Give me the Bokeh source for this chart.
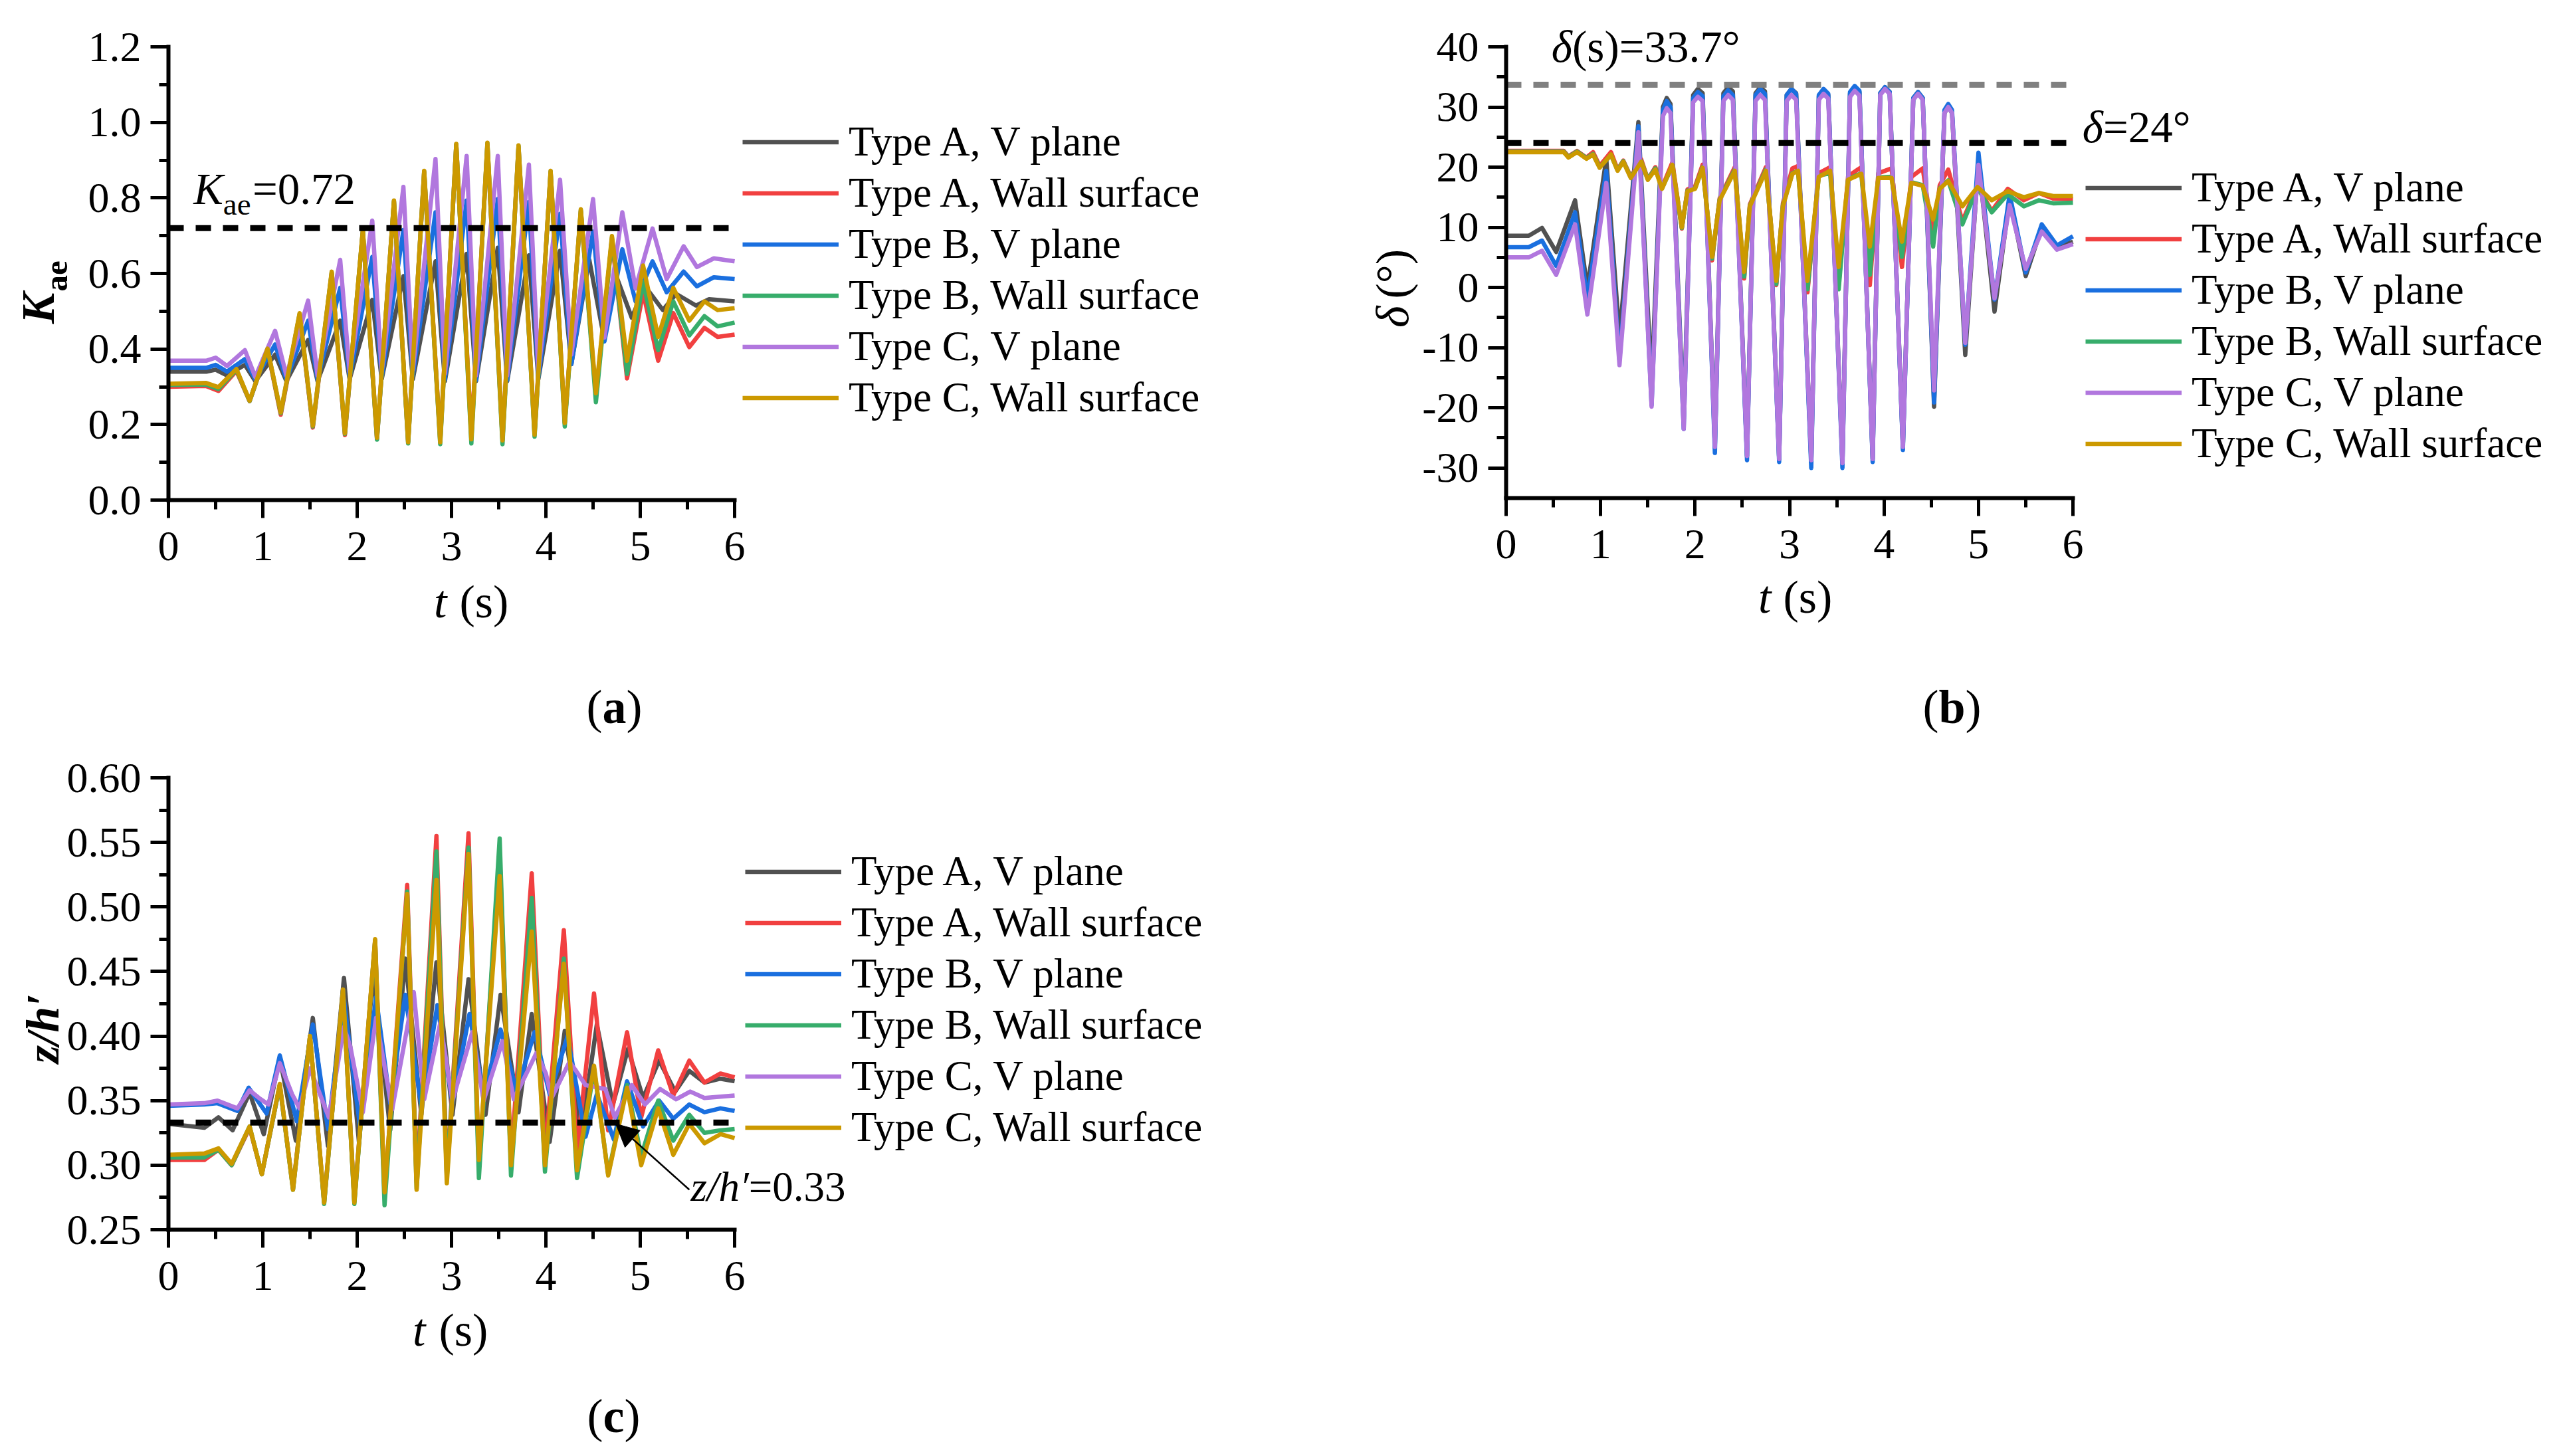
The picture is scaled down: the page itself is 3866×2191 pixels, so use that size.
from math import pi
from bokeh.plotting import figure
from bokeh.models import (Range1d, FixedTicker, Legend, LegendItem, Label, Arrow, NormalHead)
from bokeh.layouts import column, row
from bokeh.embed import file_html
from bokeh.resources import INLINE

# ---------------- data ----------------
NAMES = ["Type A, V plane", "Type A, Wall surface", "Type B, V plane",
         "Type B, Wall surface", "Type C, V plane", "Type C, Wall surface"]
COLORS = ["#515151", "#F14040", "#1A6FDF", "#37AD6B", "#B177DE", "#CC9900"]

T_MIN, T_MAX = 0, 6
T_TICKS = [0, 1, 2, 3, 4, 5, 6]
T_LABELS = ["0", "1", "2", "3", "4", "5", "6"]
T_MINOR = [0.5, 1.5, 2.5, 3.5, 4.5, 5.5]

KAE_RANGE = [0.0, 1.2]
KAE_TICKS = [0.0, 0.2, 0.4, 0.6, 0.8, 1.0, 1.2]
KAE_LABELS = ["0.0", "0.2", "0.4", "0.6", "0.8", "1.0", "1.2"]
KAE_MINOR = [0.1, 0.3, 0.5, 0.7, 0.9, 1.1]
KAE_REF = 0.72

DEL_RANGE = [-35, 40]
DEL_TICKS = [-30, -20, -10, 0, 10, 20, 30, 40]
DEL_LABELS = ["-30", "-20", "-10", "0", "10", "20", "30", "40"]
DEL_MINOR = [-25, -15, -5, 5, 15, 25, 35]
DEL_REF_S = 33.7
DEL_REF = 24

Z_RANGE = [0.25, 0.60]
Z_TICKS = [0.25, 0.30, 0.35, 0.40, 0.45, 0.50, 0.55, 0.60]
Z_LABELS = ["0.25", "0.30", "0.35", "0.40", "0.45", "0.50", "0.55", "0.60"]
Z_MINOR = [0.275, 0.325, 0.375, 0.425, 0.475, 0.525, 0.575]
Z_REF = 0.333

REF_T = [0, 6]

# panel (a): K_ae
KAE_T_WALL = [0, 0.40, 0.53, 0.72, 0.86, 1.05, 1.19, 1.39, 1.53, 1.73, 1.87, 2.06, 2.21, 2.39,
              2.54, 2.71, 2.88, 3.05, 3.21, 3.38, 3.54, 3.71, 3.88, 4.05, 4.20, 4.37, 4.53, 4.70,
              4.86, 5.03, 5.19, 5.35, 5.52, 5.68, 5.82, 6.0]
KAE_A_WALL = [0.300, 0.302, 0.289, 0.342, 0.262, 0.398, 0.226, 0.490, 0.192, 0.600, 0.172, 0.712,
              0.162, 0.790, 0.155, 0.868, 0.158, 0.940, 0.170, 0.940, 0.160, 0.935, 0.178, 0.868,
              0.205, 0.765, 0.275, 0.690, 0.322, 0.550, 0.369, 0.495, 0.405, 0.456, 0.432, 0.438]
KAE_B_WALL = [0.305, 0.306, 0.294, 0.345, 0.262, 0.400, 0.230, 0.493, 0.195, 0.603, 0.175, 0.713,
              0.160, 0.792, 0.150, 0.870, 0.148, 0.942, 0.150, 0.945, 0.148, 0.938, 0.168, 0.870,
              0.195, 0.768, 0.259, 0.695, 0.334, 0.577, 0.397, 0.526, 0.436, 0.487, 0.460, 0.470]
KAE_C_WALL = [0.308, 0.310, 0.299, 0.347, 0.263, 0.401, 0.232, 0.495, 0.197, 0.605, 0.177, 0.715,
              0.165, 0.793, 0.153, 0.872, 0.153, 0.943, 0.161, 0.946, 0.158, 0.939, 0.173, 0.872,
              0.204, 0.770, 0.283, 0.699, 0.369, 0.621, 0.432, 0.562, 0.475, 0.526, 0.503, 0.508]
KAE_T_AV = [0, 0.40, 0.50, 0.62, 0.81, 0.92, 1.13, 1.25, 1.48, 1.58, 1.82, 1.92, 2.16, 2.26, 2.49,
            2.59, 2.83, 2.93, 3.16, 3.26, 3.49, 3.59, 3.82, 3.92, 4.15, 4.27, 4.46, 4.60, 4.75,
            4.91, 5.05, 5.24, 5.38, 5.59, 5.73, 6.0]
KAE_A_V = [0.340, 0.340, 0.345, 0.330, 0.358, 0.315, 0.385, 0.315, 0.424, 0.315, 0.475, 0.320,
           0.530, 0.320, 0.593, 0.320, 0.632, 0.315, 0.652, 0.315, 0.668, 0.315, 0.648, 0.320,
           0.660, 0.360, 0.636, 0.450, 0.590, 0.483, 0.566, 0.503, 0.546, 0.515, 0.532, 0.526]
KAE_T_BCV = [0, 0.40, 0.50, 0.62, 0.81, 0.92, 1.13, 1.25, 1.48, 1.58, 1.82, 1.92, 2.16, 2.26, 2.49,
             2.59, 2.83, 2.93, 3.16, 3.26, 3.49, 3.59, 3.82, 3.92, 4.15, 4.27, 4.50, 4.62, 4.81,
             4.95, 5.13, 5.28, 5.46, 5.60, 5.78, 6.0]
KAE_B_V = [0.350, 0.350, 0.358, 0.340, 0.373, 0.320, 0.412, 0.320, 0.475, 0.320, 0.562, 0.325,
           0.644, 0.325, 0.715, 0.330, 0.762, 0.320, 0.793, 0.318, 0.797, 0.318, 0.789, 0.325,
           0.758, 0.360, 0.711, 0.420, 0.664, 0.526, 0.632, 0.550, 0.605, 0.566, 0.590, 0.585]
KAE_C_V = [0.369, 0.369, 0.377, 0.355, 0.397, 0.326, 0.448, 0.330, 0.528, 0.330, 0.636, 0.340,
           0.740, 0.340, 0.829, 0.345, 0.903, 0.335, 0.911, 0.330, 0.911, 0.330, 0.888, 0.340,
           0.848, 0.385, 0.797, 0.430, 0.762, 0.560, 0.719, 0.585, 0.672, 0.617, 0.640, 0.632]

# panel (b): delta
DEL_T_V = [0, 0.24, 0.38, 0.53, 0.73, 0.86, 1.06, 1.20, 1.40, 1.54, 1.66, 1.70, 1.74, 1.88, 1.98,
           2.03, 2.08, 2.21, 2.30, 2.35, 2.40, 2.55, 2.64, 2.69, 2.74, 2.89, 2.97, 3.02, 3.07,
           3.23, 3.31, 3.36, 3.41, 3.56, 3.64, 3.69, 3.74, 3.88, 3.96, 4.01, 4.06, 4.20, 4.31,
           4.36, 4.41, 4.53, 4.64, 4.68, 4.72, 4.86, 5.00, 5.17, 5.33, 5.50, 5.67, 5.83, 6.0]
DEL_A_V = [8.6, 8.6, 9.9, 5.9, 14.5, -0.1, 21.4, -8.2, 27.5, -16.0, 30.0, 31.5, 30.5, -22.0, 32.0,
           33.0, 32.3, -26.5, 32.3, 33.3, 32.6, -28.0, 32.3, 33.3, 32.6, -28.5, 32.0, 33.0, 32.3,
           -29.0, 31.8, 32.8, 32.0, -29.0, 32.2, 33.2, 32.5, -28.5, 32.3, 33.3, 32.5, -26.5, 31.5,
           32.5, 31.5, -19.8, 29.0, 30.0, 29.0, -11.2, 21.0, -4.0, 14.8, 1.9, 10.0, 6.8, 7.6]
DEL_B_V = [6.7, 6.7, 7.8, 3.6, 12.5, -1.8, 19.4, -12.0, 26.8, -19.5, 29.5, 31.0, 30.0, -23.5, 31.5,
           32.5, 31.8, -27.5, 31.8, 32.8, 32.0, -28.7, 32.0, 33.0, 32.2, -29.0, 32.0, 33.0, 32.2,
           -30.0, 32.0, 33.0, 32.2, -30.0, 32.5, 33.5, 32.7, -29.0, 32.3, 33.3, 32.5, -27.0, 31.5,
           32.5, 31.5, -19.1, 29.5, 30.5, 29.5, -9.5, 22.4, -2.0, 15.5, 2.5, 10.5, 7.0, 8.5]
DEL_C_V = [5.0, 5.0, 6.1, 2.1, 10.5, -4.5, 17.4, -12.9, 25.8, -19.8, 28.5, 29.8, 29.0, -23.5, 30.8,
           31.7, 31.0, -26.5, 31.0, 32.0, 31.2, -28.0, 31.0, 32.0, 31.2, -28.5, 31.0, 32.0, 31.2,
           -28.7, 31.2, 32.2, 31.4, -29.2, 31.7, 32.7, 31.9, -28.5, 32.0, 33.0, 32.2, -26.5, 31.2,
           32.2, 31.2, -17.1, 29.0, 30.0, 29.0, -9.2, 20.4, -1.8, 13.7, 3.1, 9.3, 6.3, 7.2]
DEL_T_WALL = [0, 0.61, 0.66, 0.75, 0.85, 0.92, 0.99, 1.11, 1.18, 1.24, 1.32, 1.43, 1.50, 1.58, 1.65,
              1.76, 1.86, 1.92, 2.00, 2.08, 2.18, 2.26, 2.42, 2.52, 2.58, 2.75, 2.86, 2.93, 3.03,
              3.09, 3.19, 3.31, 3.43, 3.52, 3.62, 3.76, 3.85, 3.94, 4.08, 4.19, 4.29, 4.41, 4.52,
              4.59, 4.68, 4.83, 4.99, 5.14, 5.31, 5.48, 5.64, 5.79, 6.0]
DEL_A_WALL = [22.7, 22.7, 21.8, 22.7, 21.6, 22.5, 20.2, 22.5, 19.6, 21.1, 18.4, 21.3, 18.0, 20.0,
              16.6, 20.8, 9.8, 16.3, 16.8, 20.4, 4.5, 14.8, 20.0, 1.5, 13.8, 20.0, 0.4, 14.0, 19.8,
              20.2, -0.8, 19.0, 20.0, 0.4, 18.5, 20.0, 0.4, 19.0, 19.8, 3.4, 18.4, 19.8, 8.3, 17.0,
              19.6, 11.0, 17.0, 12.7, 16.4, 14.5, 15.7, 14.8, 14.7]
DEL_B_WALL = [22.6, 22.6, 21.7, 22.6, 21.5, 22.2, 20.0, 22.0, 19.5, 21.0, 18.3, 21.0, 18.0, 19.8,
              16.5, 20.2, 9.9, 16.1, 16.5, 20.0, 4.8, 14.6, 19.6, 1.8, 13.6, 19.6, 0.6, 13.7, 19.0,
              19.4, -0.3, 18.6, 19.0, -0.3, 18.0, 19.0, 2.1, 18.3, 18.4, 5.1, 17.5, 17.0, 6.8, 16.5,
              17.8, 10.5, 16.6, 12.5, 15.5, 13.5, 14.5, 14.0, 14.1]
DEL_C_WALL = [22.5, 22.5, 21.6, 22.5, 21.4, 22.1, 19.9, 22.1, 19.4, 20.9, 18.2, 20.9, 17.9, 19.6,
              16.4, 20.4, 10.0, 16.0, 16.4, 19.9, 5.1, 14.5, 19.4, 2.6, 13.5, 19.4, 1.1, 13.5, 18.9,
              19.4, 1.1, 18.4, 19.4, 3.4, 17.9, 18.9, 6.8, 18.2, 18.2, 7.6, 17.4, 16.9, 11.3, 16.4,
              17.7, 13.5, 16.7, 14.5, 16.0, 15.0, 15.7, 15.2, 15.2]

# panel (c): z/h'
Z_T_WALL = [0, 0.38, 0.53, 0.67, 0.86, 0.99, 1.18, 1.32, 1.50, 1.65, 1.85, 1.97, 2.19, 2.29, 2.53,
            2.63, 2.84, 2.95, 3.18, 3.29, 3.51, 3.63, 3.85, 3.99, 4.19, 4.33, 4.51, 4.66, 4.86,
            5.01, 5.19, 5.35, 5.52, 5.68, 5.85, 6.0]
Z_A_WALL = [0.304, 0.304, 0.312, 0.300, 0.329, 0.293, 0.362, 0.282, 0.400, 0.271, 0.436, 0.272,
            0.474, 0.277, 0.517, 0.287, 0.555, 0.292, 0.557, 0.298, 0.541, 0.304, 0.526, 0.307,
            0.482, 0.311, 0.433, 0.327, 0.403, 0.337, 0.389, 0.354, 0.381, 0.364, 0.371, 0.368]
Z_B_WALL = [0.306, 0.306, 0.312, 0.300, 0.330, 0.293, 0.362, 0.281, 0.400, 0.270, 0.436, 0.270,
            0.474, 0.269, 0.512, 0.282, 0.543, 0.290, 0.546, 0.290, 0.553, 0.292, 0.507, 0.295,
            0.460, 0.290, 0.375, 0.293, 0.362, 0.307, 0.350, 0.319, 0.339, 0.325, 0.327, 0.328]
Z_C_WALL = [0.308, 0.309, 0.313, 0.301, 0.330, 0.293, 0.363, 0.281, 0.400, 0.271, 0.436, 0.271,
            0.475, 0.279, 0.510, 0.281, 0.521, 0.286, 0.541, 0.304, 0.524, 0.300, 0.481, 0.300,
            0.456, 0.296, 0.377, 0.292, 0.360, 0.300, 0.344, 0.308, 0.332, 0.317, 0.324, 0.321]
Z_T_AV = [0, 0.38, 0.53, 0.68, 0.86, 1.01, 1.18, 1.35, 1.53, 1.69, 1.86, 2.02, 2.17, 2.35, 2.51,
          2.68, 2.84, 3.01, 3.18, 3.36, 3.52, 3.71, 3.85, 4.04, 4.20, 4.37, 4.54, 4.71, 4.87,
          5.03, 5.20, 5.37, 5.52, 5.68, 5.85, 6.0]
Z_A_V = [0.332, 0.329, 0.337, 0.327, 0.356, 0.324, 0.383, 0.319, 0.414, 0.315, 0.445, 0.317,
         0.449, 0.327, 0.460, 0.339, 0.457, 0.339, 0.444, 0.339, 0.432, 0.341, 0.417, 0.318,
         0.404, 0.323, 0.409, 0.347, 0.390, 0.352, 0.381, 0.357, 0.373, 0.364, 0.367, 0.365]
Z_T_BV = [0, 0.38, 0.52, 0.73, 0.85, 1.04, 1.18, 1.36, 1.53, 1.69, 1.86, 2.03, 2.20, 2.35, 2.51,
          2.68, 2.85, 3.01, 3.19, 3.34, 3.52, 3.69, 3.88, 4.04, 4.23, 4.42, 4.54, 4.72, 4.86,
          5.03, 5.20, 5.35, 5.52, 5.68, 5.85, 6.0]
Z_B_V = [0.346, 0.347, 0.348, 0.342, 0.360, 0.340, 0.385, 0.334, 0.409, 0.328, 0.428, 0.330,
         0.430, 0.348, 0.432, 0.346, 0.424, 0.348, 0.417, 0.355, 0.405, 0.357, 0.403, 0.355,
         0.400, 0.322, 0.355, 0.320, 0.365, 0.330, 0.350, 0.336, 0.347, 0.341, 0.344, 0.342]
Z_T_CV = [0, 0.38, 0.52, 0.73, 0.86, 0.96, 1.06, 1.18, 1.31, 1.39, 1.50, 1.70, 1.86, 1.93, 2.06,
          2.20, 2.37, 2.60, 2.71, 2.88, 3.01, 3.22, 3.34, 3.54, 3.66, 3.90, 4.00, 4.06, 4.25,
          4.32, 4.42, 4.63, 4.73, 4.91, 5.05, 5.21, 5.38, 5.53, 5.68, 6.0]
Z_C_V = [0.347, 0.348, 0.350, 0.344, 0.358, 0.352, 0.347, 0.379, 0.355, 0.344, 0.375, 0.337,
         0.407, 0.391, 0.341, 0.414, 0.343, 0.434, 0.351, 0.410, 0.350, 0.403, 0.350, 0.396,
         0.351, 0.387, 0.371, 0.352, 0.380, 0.373, 0.362, 0.359, 0.337, 0.362, 0.347, 0.359,
         0.351, 0.357, 0.352, 0.354]

# annotation anchors (data units, vertical centre of the text)
KAE_NOTE_X, KAE_NOTE_SPLIT, KAE_NOTE_Y, KAE_NOTE_SUB_Y = 0.58, 0.89, 0.825, 0.783
DEL_S_NOTE_X, DEL_S_NOTE_Y = 0.70, 40.1
DEL_NOTE_X, DEL_NOTE_Y = 6.32, 26.7
Z_NOTE_X, Z_NOTE_Y = 6.15, 0.283
Z_ARROW = [5.52, 0.281, 4.74, 0.332]

# ---------------- styling helpers ----------------
FONT = "Liberation Serif"
FS_TICK = "64px"
FS_LEG = "63px"
FS_NOTE = "67px"
FS_NOTE_SUB = "47px"
FS_TITLE = "70px"
FS_TITLE_SUB = "49px"
FS_CAP = "72px"


class Panel:
    def __init__(self, p, ox, oy):
        self.p, self.ox, self.oy = p, ox, oy

    def lab(self, dx, dy, text, size=FS_TITLE, style="normal", align="left", angle=0.0):
        self.p.add_layout(Label(x=self.ox + dx, y=self.oy + dy, x_units="screen",
                                y_units="screen", text=text, text_font=FONT,
                                text_font_size=size, text_font_style=style,
                                text_align=align, text_baseline="middle", angle=angle,
                                text_color="black"))

    def dlab(self, x, y, text, size=FS_NOTE, style="normal", align="left"):
        self.p.add_layout(Label(x=x, y=y, text=text, text_font=FONT, text_font_size=size,
                                text_font_style=style, text_align=align,
                                text_baseline="middle", text_color="black"))

    def caption(self, cx, y, letter, half):
        self.lab(cx - half, y, "(", size=FS_CAP, align="right")
        self.lab(cx, y, letter, size=FS_CAP, style="bold", align="center")
        self.lab(cx + half, y, ")", size=FS_CAP, align="left")

    def dash(self, val, color):
        self.p.line(REF_T, [val, val], line_color=color, line_width=9, line_dash="23 18")

    def series(self, ts, ys, dx, dy):
        items = []
        for name, color, t, y in zip(NAMES, COLORS, ts, ys):
            r = self.p.line(t, y, line_color=color, line_width=6.5, line_join="round")
            items.append(LegendItem(label=name, renderers=[r]))
        leg = Legend(items=items, location=(self.ox + dx, self.oy + dy), label_text_font=FONT,
                     label_text_font_size=FS_LEG, label_text_color="black",
                     glyph_width=145, glyph_height=77,
                     label_height=77, label_standoff=15, spacing=0, padding=0, margin=0,
                     border_line_color=None, background_fill_alpha=0)
        self.p.add_layout(leg)


def make_panel(width, height, ox, oy, aw, ah, yr, yticks, ylabels, yminor):
    # axes box of aw x ah pixels whose lower-left corner sits ox px from the left
    # and oy px from the bottom of the canvas; the frame fills the whole canvas
    tspan = T_MAX - T_MIN
    yspan = yr[1] - yr[0]
    xr = Range1d(T_MIN - ox * tspan / aw, T_MIN + (width - ox) * tspan / aw)
    yrng = Range1d(yr[0] - oy * yspan / ah, yr[0] + (height - oy) * yspan / ah)
    p = figure(width=width, height=height, x_range=xr, y_range=yrng, title=None,
               min_border=0, output_backend="svg", toolbar_location=None)
    p.xgrid.visible = False
    p.ygrid.visible = False
    p.outline_line_color = None
    p.background_fill_color = "white"
    p.border_fill_color = "white"
    p.xaxis.ticker = FixedTicker(ticks=T_TICKS, minor_ticks=T_MINOR)
    p.xaxis.major_label_overrides = dict(zip(T_TICKS, T_LABELS))
    p.yaxis.ticker = FixedTicker(ticks=yticks, minor_ticks=yminor)
    p.yaxis.major_label_overrides = dict(zip(yticks, ylabels))
    p.xaxis.fixed_location = yr[0]
    p.yaxis.fixed_location = T_MIN
    p.xaxis.bounds = (T_MIN, T_MAX)
    p.yaxis.bounds = (yr[0], yr[1])
    for ax in (p.xaxis[0], p.yaxis[0]):
        ax.axis_line_width = 6
        ax.axis_line_color = "black"
        ax.axis_line_cap = "square"
        ax.major_tick_line_width = 5
        ax.minor_tick_line_width = 5
        ax.major_tick_line_color = "black"
        ax.minor_tick_line_color = "black"
        ax.major_tick_in = 0
        ax.major_tick_out = 27
        ax.minor_tick_in = 0
        ax.minor_tick_out = 14
        ax.major_label_text_font = FONT
        ax.major_label_text_font_size = FS_TICK
        ax.major_label_text_color = "black"
    p.xaxis.major_label_standoff = 21
    p.yaxis.major_label_standoff = 14
    return Panel(p, ox, oy)


# ---------------- panel (a) ----------------
A = make_panel(1930, 1110, 253, 358, 852, 682, KAE_RANGE, KAE_TICKS, KAE_LABELS, KAE_MINOR)
A.series([KAE_T_AV, KAE_T_WALL, KAE_T_BCV, KAE_T_WALL, KAE_T_BCV, KAE_T_WALL],
         [KAE_A_V, KAE_A_WALL, KAE_B_V, KAE_B_WALL, KAE_C_V, KAE_C_WALL], 864, 115)
A.dash(KAE_REF, "black")
A.dlab(KAE_NOTE_X, KAE_NOTE_Y, "K", style="italic", align="right")
A.dlab(KAE_NOTE_X, KAE_NOTE_SUB_Y, "ae", size=FS_NOTE_SUB)
A.dlab(KAE_NOTE_SPLIT, KAE_NOTE_Y, "=0.72")
A.lab(-196, 312, "K", style="bold italic", align="right", angle=pi / 2)
A.lab(-169, 314, "ae", size=FS_TITLE_SUB, style="bold", align="left", angle=pi / 2)
A.lab(419, -153, "t", style="italic", align="right")
A.lab(438, -153, "(s)", align="left")
A.caption(671, -311, "a", 18)

# ---------------- panel (b) ----------------
B = make_panel(1920, 1110, 336, 361, 853, 679, DEL_RANGE, DEL_TICKS, DEL_LABELS, DEL_MINOR)
B.series([DEL_T_V, DEL_T_WALL, DEL_T_V, DEL_T_WALL, DEL_T_V, DEL_T_WALL],
         [DEL_A_V, DEL_A_WALL, DEL_B_V, DEL_B_WALL, DEL_C_V, DEL_C_WALL], 872, 43)
B.dash(DEL_REF_S, "#808080")
B.dash(DEL_REF, "black")
B.dlab(DEL_S_NOTE_X, DEL_S_NOTE_Y, "δ", style="italic", align="right")
B.dlab(DEL_S_NOTE_X, DEL_S_NOTE_Y, "(s)=33.7°")
B.dlab(DEL_NOTE_X, DEL_NOTE_Y, "δ", style="italic", align="right")
B.dlab(DEL_NOTE_X, DEL_NOTE_Y, "=24°")
B.lab(-171, 289, "δ", style="italic", align="right", angle=pi / 2)
B.lab(-171, 300, "(°)", align="left", angle=pi / 2)
B.lab(399, -149, "t", style="italic", align="right")
B.lab(417, -149, "(s)", align="left")
B.caption(671, -314, "b", 20)

# ---------------- panel (c) ----------------
C = make_panel(1930, 1080, 253, 340, 852, 680, Z_RANGE, Z_TICKS, Z_LABELS, Z_MINOR)
C.series([Z_T_AV, Z_T_WALL, Z_T_BV, Z_T_WALL, Z_T_CV, Z_T_WALL],
         [Z_A_V, Z_A_WALL, Z_B_V, Z_B_WALL, Z_C_V, Z_C_WALL], 868, 115)
C.dash(Z_REF, "black")
C.p.add_layout(Arrow(end=NormalHead(size=34, fill_color="black", line_color="black",
                                    line_width=1),
                     x_start=Z_ARROW[0], y_start=Z_ARROW[1], x_end=Z_ARROW[2], y_end=Z_ARROW[3],
                     line_color="black", line_width=2.5))
C.dlab(Z_NOTE_X, Z_NOTE_Y, "z/h′", size=FS_LEG, style="italic", align="right")
C.dlab(Z_NOTE_X, Z_NOTE_Y, "=0.33", size=FS_LEG)
C.lab(-189, 303, "z/h′", style="bold italic", align="center", angle=pi / 2)
C.lab(387, -151, "t", style="italic", align="right")
C.lab(407, -151, "(s)", align="left")
C.caption(670, -280, "c", 16)

layout = column(row(A.p, B.p), C.p)
open("out.html", "w").write(file_html(layout, INLINE, "chart"))
